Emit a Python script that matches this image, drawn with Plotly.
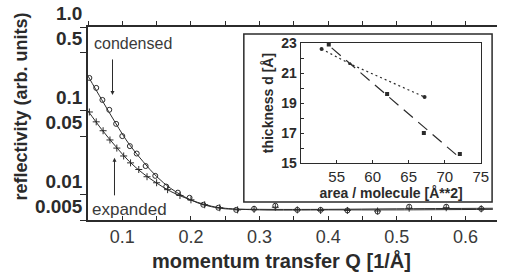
import numpy as np
import plotly.graph_objects as go

# ---------------- data ----------------
cond_q = [0.052, 0.062, 0.071, 0.081, 0.091, 0.100, 0.111, 0.121, 0.134, 0.148, 0.164,
          0.181, 0.198, 0.218, 0.240, 0.266, 0.292, 0.323, 0.355, 0.389, 0.428, 0.472,
          0.518, 0.572, 0.623]
cond_r = [0.247, 0.188, 0.135, 0.103, 0.070, 0.050, 0.038, 0.031, 0.022, 0.0168, 0.0125,
          0.0106, 0.0092, 0.0076, 0.0070, 0.0066, 0.0068, 0.0074, 0.0066, 0.0066, 0.0065,
          0.0063, 0.0072, 0.0072, 0.0068]

exp_q = [0.052, 0.062, 0.072, 0.082, 0.092, 0.102, 0.112, 0.124, 0.136, 0.150, 0.166,
         0.184, 0.200, 0.220, 0.242, 0.268, 0.292, 0.323, 0.355, 0.389, 0.428, 0.472,
         0.518, 0.572, 0.623]
exp_r = [0.097, 0.074, 0.058, 0.045, 0.036, 0.029, 0.024, 0.020, 0.0164, 0.0139, 0.0115,
         0.0098, 0.0087, 0.0076, 0.0070, 0.0066, 0.0067, 0.0071, 0.0066, 0.0065, 0.0065,
         0.0064, 0.0069, 0.0070, 0.0068]

fit_q = [0.05, 0.07, 0.09, 0.11, 0.13, 0.15, 0.17, 0.19, 0.21, 0.23, 0.25, 0.30, 0.40, 0.50, 0.64]
cond_fit = [0.26, 0.136, 0.072, 0.040, 0.025, 0.0165, 0.0120, 0.0095, 0.0080, 0.0072,
            0.0068, 0.0067, 0.0067, 0.0068, 0.0069]
exp_fit = [0.100, 0.060, 0.038, 0.025, 0.018, 0.0138, 0.011, 0.0093, 0.0081, 0.0073,
           0.0069, 0.0066, 0.0066, 0.0066, 0.0067]

x_ticks = [0.1, 0.2, 0.3, 0.4, 0.5, 0.6]
x_minor = [0.05, 0.15, 0.25, 0.35, 0.45, 0.55]
x_ticktext = ["0.1", "0.2", "0.3", "0.4", "0.5", "0.6"]
y_ticks = [1.0, 0.5, 0.1, 0.05, 0.01, 0.005]
y_ticktext = ["1.0", "0.5", "0.1", "0.05", "0.01", "0.005"]

# inset
sq_area = [53.9, 62.0, 67.1, 72.1]
sq_thick = [22.9, 19.6, 17.0, 15.6]
dot_area = [52.9, 56.9, 67.2]
dot_thick = [22.6, 21.6, 19.4]
in_x_ticks = [55, 60, 65, 70, 75]
in_y_ticks = [15, 17, 19, 21, 23]

INK = "#2b2b2b"
FONT = "Liberation Sans"

fig = go.Figure()

# fit curves
fig.add_trace(go.Scatter(x=fit_q, y=cond_fit, mode="lines", line=dict(color=INK, width=1, shape="spline"),
                         hoverinfo="skip", showlegend=False))
fig.add_trace(go.Scatter(x=fit_q, y=exp_fit, mode="lines", line=dict(color=INK, width=1, shape="spline"),
                         hoverinfo="skip", showlegend=False))
# data points
fig.add_trace(go.Scatter(x=cond_q, y=cond_r, mode="markers", name="condensed",
                         marker=dict(symbol="circle-open", size=5, color=INK, line=dict(width=1)),
                         showlegend=False))
fig.add_trace(go.Scatter(x=exp_q, y=exp_r, mode="markers", name="expanded",
                         marker=dict(symbol="cross-thin-open", size=5, color=INK, line=dict(width=1, color=INK)),
                         showlegend=False))
# dummy trace for top axis
fig.add_trace(go.Scatter(x=[0.3], y=[0.5], xaxis="x2", yaxis="y", mode="markers",
                         marker=dict(opacity=0), hoverinfo="skip", showlegend=False))

# inset: fit line for square series
coef = np.polyfit(sq_area, sq_thick, 1)
fx = [min(sq_area) + 0.4, max(sq_area) - 0.4]
fy = list(np.polyval(coef, fx))
fig.add_trace(go.Scatter(x=fx, y=fy, xaxis="x3", yaxis="y3", mode="lines",
                         line=dict(color=INK, width=1.2, dash="12px,7px"), hoverinfo="skip", showlegend=False))
fig.add_trace(go.Scatter(x=sq_area, y=sq_thick, xaxis="x3", yaxis="y3", mode="markers",
                         marker=dict(symbol="square", size=4, color=INK), showlegend=False))
fig.add_trace(go.Scatter(x=dot_area, y=dot_thick, xaxis="x3", yaxis="y3", mode="lines+markers",
                         line=dict(color=INK, width=1.2, dash="2px,3px"),
                         marker=dict(symbol=["circle", "triangle-up", "circle"], size=4, color=INK),
                         showlegend=False))

fig.update_layout(
    width=507, height=274,
    margin=dict(l=88, r=2, t=27, b=54),
    paper_bgcolor="white", plot_bgcolor="white",
    font=dict(family=FONT, color=INK),
    showlegend=False,
    xaxis=dict(
        range=[0.05, 0.646], tickvals=x_ticks, ticktext=x_ticktext, automargin=False,
        ticks="inside", ticklen=4, tickwidth=1, tickcolor=INK, ticklabelstandoff=0,
        minor=dict(tickvals=x_minor, ticks="inside", ticklen=4, tickcolor=INK),
        showline=True, linecolor=INK, linewidth=1.5, showgrid=False, zeroline=False,
        tickfont=dict(size=18, color="#3a3a3a"),
    ),
    xaxis2=dict(
        overlaying="x", side="top", range=[0.05, 0.646], tickvals=x_ticks, automargin=False,
        ticks="outside", ticklen=4, tickcolor=INK, showticklabels=False,
        minor=dict(tickvals=x_minor, ticks="outside", ticklen=4, tickcolor=INK),
        showline=True, linecolor=INK, linewidth=1.5, showgrid=False, zeroline=False,
    ),
    yaxis=dict(
        type="log", range=[np.log10(0.005), 0], tickvals=y_ticks, ticktext=y_ticktext,
        automargin=False,
        ticks="outside", ticklen=6, tickcolor=INK, ticklabelposition="outside top",
        showline=True, linecolor=INK, linewidth=1.5, showgrid=False, zeroline=False,
        tickfont=dict(size=19, weight="bold"),
    ),
    xaxis3=dict(
        domain=[0.520, 0.962], anchor="y3", range=[50, 75.1], tickvals=in_x_ticks,
        ticks="inside", ticklen=3, tickcolor=INK,
        showline=True, linecolor=INK, linewidth=1.2, mirror=True, showgrid=False, zeroline=False,
        tickfont=dict(size=15), title=dict(text="<b>area / molecule [Å**2]</b>", font=dict(size=14), standoff=0),
    ),
    yaxis3=dict(
        domain=[0.295, 0.917], anchor="x3", range=[15, 23], tickvals=in_y_ticks,
        ticks="inside", ticklen=3, tickcolor=INK,
        minor=dict(tickvals=[16, 18, 20, 22], ticks="inside", ticklen=3, tickcolor=INK),
        showline=True, linecolor=INK, linewidth=1.2, mirror=True, showgrid=False, zeroline=False,
        tickfont=dict(size=14, weight="bold"),
        title=dict(text="<b>thickness d [Å]</b>", font=dict(size=14), standoff=4),
    ),
    shapes=[
        dict(type="rect", xref="paper", yref="paper", x0=0.381, x1=0.988, y0=0.093, y1=0.964,
             line=dict(color=INK, width=1.5), fillcolor="white", layer="below"),
    ],
    annotations=[
        dict(x=0.472, y=-0.209, xref="paper", yref="paper", text="<b>momentum transfer Q [1/Å]</b>",
             showarrow=False, xanchor="center", yanchor="middle", font=dict(size=20, color=INK)),
        dict(x=-0.163, y=0.59, xref="paper", yref="paper", text="<b>reflectivity (arb. units)</b>",
             showarrow=False, textangle=-90, xanchor="center", yanchor="middle",
             font=dict(size=18, color=INK)),
        dict(x=0.0557, y=-0.20, xref="x", yref="y", text="condensed", showarrow=False,
             xanchor="left", font=dict(size=16, color="#3a3a3a")),
        dict(x=0.0529, y=-2.18, xref="x", yref="y", text="expanded", showarrow=False,
             xanchor="left", font=dict(size=17, color="#3a3a3a")),
        dict(x=0.0857, y=-0.81, xref="x", yref="y", text="", showarrow=True, ax=0, ay=-37,
             arrowhead=2, arrowsize=0.8, arrowwidth=1, arrowcolor=INK),
        dict(x=0.0886, y=-1.56, xref="x", yref="y", text="", showarrow=True, ax=0, ay=39,
             arrowhead=2, arrowsize=0.8, arrowwidth=1, arrowcolor=INK),
    ],
)

fig.write_html("out.html", config={"displayModeBar": False},
               post_script="document.body.style.margin='0';document.body.style.overflow='hidden';")
